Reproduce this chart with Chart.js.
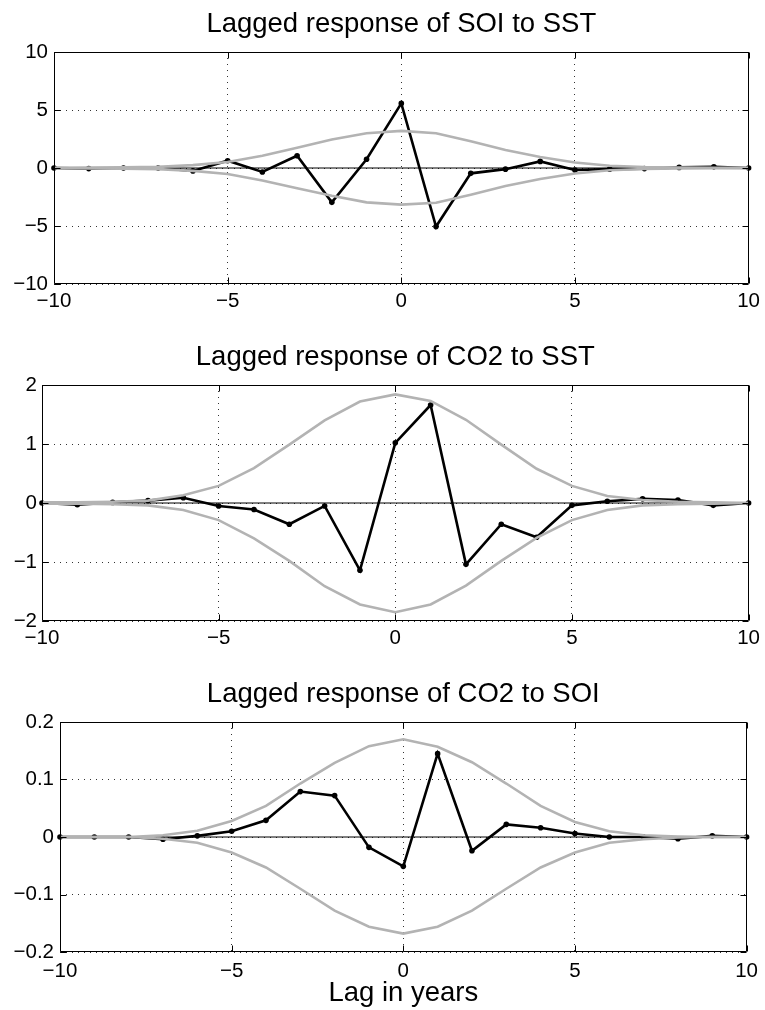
<!DOCTYPE html>
<html>
<head>
<meta charset="utf-8">
<script src="https://cdn.jsdelivr.net/npm/chart.js@4"></script>
<style>
  html, body { margin: 0; padding: 0; background: #fff; }
  body { width: 765px; height: 1010px; position: relative; overflow: hidden; }
  .panel { position: absolute; left: 0; width: 765px; }
</style>
</head>
<body>
<div class="panel" style="top:0;height:320px"><canvas id="soiChart"></canvas></div>
<div class="panel" style="top:333px;height:320px"><canvas id="co2SstChart"></canvas></div>
<div class="panel" style="top:670px;height:340px"><canvas id="co2SoiChart"></canvas></div>
<script>
// lags in years
const lags = [-10, -9, -8, -7, -6, -5, -4, -3, -2, -1, 0, 1, 2, 3, 4, 5, 6, 7, 8, 9, 10];
const xTicks = [-10, -5, 0, 5, 10];
const xTickLabels = ['\u221210', '\u22125', '0', '5', '10'];

// SOI response to SST
const soiResponse = [0.0, -0.05, 0.0, 0.0, -0.25, 0.63, -0.34, 1.06, -2.96, 0.75, 5.57, -5.05, -0.46, -0.1, 0.57, -0.17, -0.1, -0.05, 0.05, 0.1, 0.0];
const soiUpper = [0.02, 0.03, 0.05, 0.1, 0.25, 0.52, 1.05, 1.75, 2.45, 3.0, 3.2, 3.0, 2.3, 1.55, 0.95, 0.48, 0.2, 0.08, 0.03, 0.02, 0.01];
const soiLower = [-0.02, -0.03, -0.05, -0.1, -0.25, -0.52, -1.08, -1.75, -2.4, -2.96, -3.16, -3.0, -2.3, -1.55, -0.95, -0.48, -0.2, -0.08, -0.03, -0.02, -0.01];
const soiTicks = [-10, -5, 0, 5, 10];
const soiTickLabels = ['\u221210', '\u22125', '0', '5', '10'];

// CO2 response to SST
const co2SstResponse = [0.0, -0.03, 0.01, 0.04, 0.09, -0.05, -0.11, -0.36, -0.05, -1.14, 1.02, 1.66, -1.04, -0.36, -0.58, -0.04, 0.03, 0.07, 0.05, -0.04, 0.0];
const co2SstUpper = [0.01, 0.01, 0.02, 0.04, 0.13, 0.29, 0.59, 0.99, 1.4, 1.72, 1.84, 1.73, 1.41, 0.99, 0.58, 0.29, 0.12, 0.05, 0.02, 0.01, 0.0];
const co2SstLower = [-0.01, -0.01, -0.02, -0.04, -0.12, -0.29, -0.6, -0.98, -1.41, -1.72, -1.85, -1.72, -1.4, -0.98, -0.59, -0.29, -0.12, -0.04, -0.02, -0.01, 0.0];
const co2SstTicks = [-2, -1, 0, 1, 2];
const co2SstTickLabels = ['\u22122', '\u22121', '0', '1', '2'];

// CO2 response to SOI
const co2SoiResponse = [0.0, 0.0, 0.0, -0.004, 0.002, 0.01, 0.029, 0.079, 0.072, -0.018, -0.051, 0.145, -0.024, 0.022, 0.016, 0.006, 0.0, 0.0, -0.003, 0.002, 0.0];
const co2SoiUpper = [0.0, 0.0, 0.0, 0.003, 0.011, 0.028, 0.054, 0.093, 0.129, 0.158, 0.17, 0.157, 0.13, 0.093, 0.054, 0.026, 0.01, 0.003, 0.001, 0.0, 0.0];
const co2SoiLower = [0.0, 0.0, 0.0, -0.003, -0.01, -0.027, -0.053, -0.09, -0.128, -0.156, -0.168, -0.156, -0.128, -0.09, -0.053, -0.027, -0.01, -0.004, -0.001, 0.0, 0.0];
const co2SoiTicks = [-0.2, -0.1, 0, 0.1, 0.2];
const co2SoiTickLabels = ['\u22120.2', '\u22120.1', '0', '0.1', '0.2'];

const FONT = "'Liberation Sans', Arial, Helvetica, sans-serif";

// matlab style box with inward tick marks on all four sides
const boxPlugin = {
  id: 'matlabBox',
  afterDraw(chart) {
    const { ctx, chartArea: a, scales } = chart;
    const len = 6;
    const left = Math.round(a.left) + 0.5;
    const right = Math.round(a.right) - 0.5;
    const top = Math.round(a.top) + 0.5;
    const bottom = Math.round(a.bottom) - 0.5;
    ctx.save();
    ctx.strokeStyle = '#000';
    ctx.lineWidth = 1;
    ctx.beginPath();
    scales.x.ticks.forEach((t) => {
      const px = Math.round(scales.x.getPixelForValue(t.value)) + 0.5;
      ctx.moveTo(px, bottom);
      ctx.lineTo(px, bottom - len);
      ctx.moveTo(px, top);
      ctx.lineTo(px, top + len);
    });
    scales.y.ticks.forEach((t) => {
      const py = Math.round(scales.y.getPixelForValue(t.value)) + 0.5;
      ctx.moveTo(left, py);
      ctx.lineTo(left + len, py);
      ctx.moveTo(right, py);
      ctx.lineTo(right - len, py);
    });
    ctx.rect(left, top, right - left, bottom - top);
    ctx.stroke();
    ctx.restore();
  }
};

function makePanel(id, titleText, response, upper, lower, yTicks, yTickLabels, opts) {
  const toPoints = (vals) => lags.map((lag, i) => ({ x: lag, y: vals[i] }));
  const grey = '#b3b3b3';
  return new Chart(document.getElementById(id), {
    type: 'line',
    data: {
      datasets: [
        { data: toPoints(upper), borderColor: grey, borderWidth: 2.6, pointRadius: 0, order: 0, clip: false },
        { data: toPoints(lower), borderColor: grey, borderWidth: 2.6, pointRadius: 0, order: 0, clip: false },
        {
          data: toPoints(response), borderColor: '#000', borderWidth: 2.6,
          pointRadius: 2.8, pointBackgroundColor: '#000', pointBorderWidth: 0, order: 1, clip: false
        },
        {
          data: [{ x: xTicks[0], y: 0 }, { x: xTicks[xTicks.length - 1], y: 0 }],
          borderColor: '#000', borderWidth: 1, pointRadius: 0, order: 2
        }
      ]
    },
    options: {
      responsive: true,
      maintainAspectRatio: false,
      animation: false,
      events: [],
      layout: { padding: { left: 0, right: 14, top: 0, bottom: 0 } },
      elements: { line: { tension: 0 } },
      plugins: {
        legend: { display: false },
        tooltip: { enabled: false },
        title: {
          display: true,
          text: titleText,
          fullSize: false,
          color: '#000',
          font: { family: FONT, size: 27.5, weight: 'normal' },
          padding: { top: 7.5, bottom: 11.5 }
        }
      },
      scales: {
        x: {
          type: 'linear',
          min: xTicks[0],
          max: xTicks[xTicks.length - 1],
          afterBuildTicks: (s) => { s.ticks = xTicks.map((v) => ({ value: v })); },
          afterFit: (s) => { s.height = opts.xHeight; },
          ticks: {
            autoSkip: false, maxRotation: 0, padding: opts.xPad, color: '#000',
            font: { family: FONT, size: 20.5 },
            callback: (v, i) => xTickLabels[i]
          },
          grid: { color: '#333', lineWidth: 1, drawTicks: false },
          border: { display: false, dash: [1, 5] },
          title: {
            display: !!opts.xTitle,
            text: opts.xTitle || '',
            color: '#000',
            font: { family: FONT, size: 27.5 },
            padding: { top: 0, bottom: 0 }
          }
        },
        y: {
          type: 'linear',
          min: yTicks[0],
          max: yTicks[yTicks.length - 1],
          afterBuildTicks: (s) => { s.ticks = yTicks.map((v) => ({ value: v })); },
          afterFit: (s) => { s.width = opts.yWidth; },
          ticks: {
            autoSkip: false, padding: opts.yPad, color: '#000',
            font: { family: FONT, size: 20.5 },
            callback: (v, i) => yTickLabels[i]
          },
          grid: { color: '#333', lineWidth: 1, drawTicks: false },
          border: { display: false, dash: [1, 5] }
        }
      }
    },
    plugins: [boxPlugin]
  });
}

makePanel('soiChart', 'Lagged response of SOI to SST', soiResponse, soiUpper, soiLower,
  soiTicks, soiTickLabels, { yWidth: 54, xHeight: 36, xPad: 5, yPad: 6 });
makePanel('co2SstChart', 'Lagged response of CO2 to SST', co2SstResponse, co2SstUpper, co2SstLower,
  co2SstTicks, co2SstTickLabels, { yWidth: 42, xHeight: 32, xPad: 5, yPad: 5 });
makePanel('co2SoiChart', 'Lagged response of CO2 to SOI', co2SoiResponse, co2SoiUpper, co2SoiLower,
  co2SoiTicks, co2SoiTickLabels, { yWidth: 60, xHeight: 58, xPad: 7, yPad: 6, xTitle: 'Lag in years' });
</script>
</body>
</html>
